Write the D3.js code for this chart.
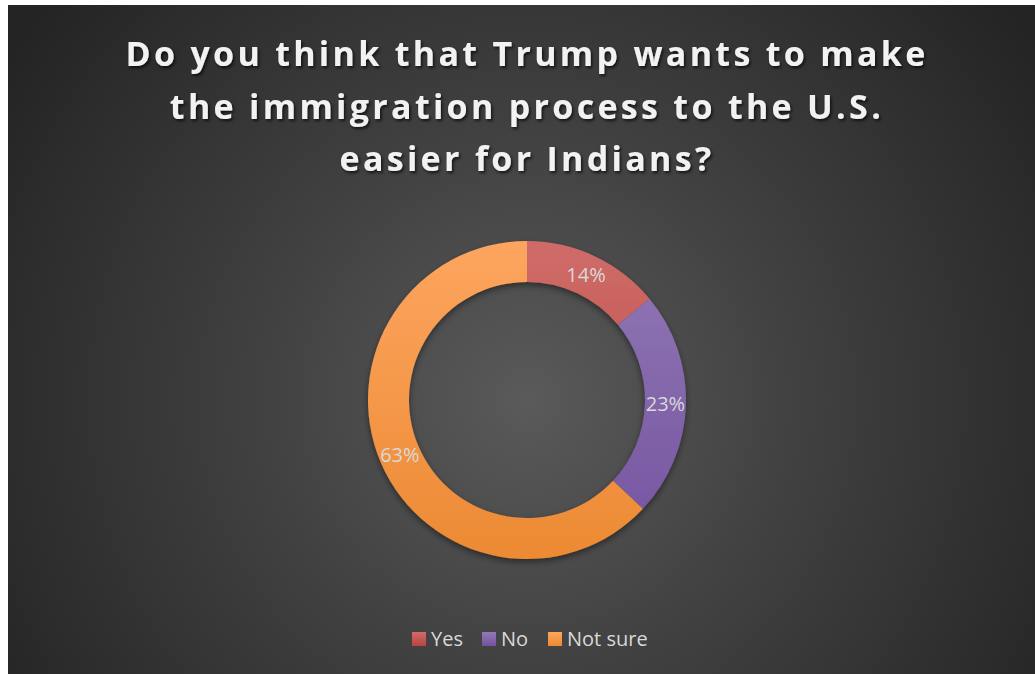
<!DOCTYPE html>
<html lang="en">
<head>
<meta charset="UTF-8">
<title>donut chart</title>
<script src="https://cdnjs.cloudflare.com/ajax/libs/d3/7.8.5/d3.min.js"></script>
<style>
  * { margin: 0; padding: 0; }
  body { background: #fff; width: 1035px; height: 674px; overflow: hidden; }
  svg { display: block; }
</style>
</head>
<body>
<div id="chart"></div>
<script>
// data
var categories = ["Yes", "No", "Not sure"];
var values = [14, 23, 63];
var titleLines = ["Do you think that Trump wants to make",
                  "the immigration process to the U.S.",
                  "easier for Indians?"];
var lightColors = ["#cf6c69", "#9179b5", "#fda55f"];
var darkColors = ["#b94340", "#7452a0", "#ec8a33"];

var W = 1035, H = 674;
var box = {x: 8, y: 5, w: 1027, h: 669};
var cx = 527, cy = 400, outerR = 159, innerR = 118;

var svg = d3.select("#chart").append("svg")
  .attr("width", W).attr("height", H);

var defs = svg.append("defs");
var bg = defs.append("radialGradient").attr("id", "bg")
  .attr("gradientUnits", "userSpaceOnUse")
  .attr("cx", cx).attr("cy", cy).attr("r", 620);
bg.append("stop").attr("offset", "0").attr("stop-color", "#5a5a5a");
bg.append("stop").attr("offset", "0.45").attr("stop-color", "#404040");
bg.append("stop").attr("offset", "1").attr("stop-color", "#242424");

// segment gradients, in the donut group's coordinates
lightColors.forEach(function(c, i) {
  var g = defs.append("linearGradient").attr("id", "seg" + i)
    .attr("gradientUnits", "userSpaceOnUse")
    .attr("x1", 0).attr("y1", -outerR).attr("x2", 0).attr("y2", outerR);
  g.append("stop").attr("offset", "0").attr("stop-color", lightColors[i]);
  g.append("stop").attr("offset", "1").attr("stop-color", darkColors[i]);

  var l = defs.append("linearGradient").attr("id", "leg" + i)
    .attr("x1", 0).attr("y1", 0).attr("x2", 0).attr("y2", 1);
  l.append("stop").attr("offset", "0").attr("stop-color", lightColors[i]);
  l.append("stop").attr("offset", "1").attr("stop-color", darkColors[i]);
});

var sh = defs.append("filter").attr("id", "shadow")
  .attr("x", "-20%").attr("y", "-20%").attr("width", "140%").attr("height", "140%");
sh.append("feDropShadow").attr("dx", 0).attr("dy", 3).attr("stdDeviation", 3)
  .attr("flood-color", "#000").attr("flood-opacity", 0.45);

var tsh = defs.append("filter").attr("id", "tshadow");
tsh.append("feDropShadow").attr("dx", 1.5).attr("dy", 2).attr("stdDeviation", 1.5)
  .attr("flood-color", "#000").attr("flood-opacity", 0.7);

svg.append("rect")
  .attr("x", box.x).attr("y", box.y).attr("width", box.w).attr("height", box.h)
  .attr("fill", "url(#bg)");

// title
svg.append("g").attr("filter", "url(#tshadow)")
  .selectAll("text").data(titleLines).enter().append("text")
  .attr("x", cx).attr("y", function(d, i) { return 66 + i * 52.5; })
  .attr("text-anchor", "middle")
  .style("font-family", "'Open Sans', sans-serif")
  .style("font-weight", "bold")
  .style("font-size", "34px")
  .style("letter-spacing", "3.3px")
  .attr("fill", "#f2f2f2")
  .text(function(d) { return d; });

// donut
var pie = d3.pie().sort(null).value(function(d) { return d; });
var arc = d3.arc().innerRadius(innerR).outerRadius(outerR);
var midR = (innerR + outerR) / 2;
var labelArc = d3.arc().innerRadius(midR).outerRadius(midR);
var arcs = pie(values);

var donut = svg.append("g").attr("transform", "translate(" + cx + "," + cy + ")");
donut.append("g").attr("filter", "url(#shadow)")
  .selectAll("path").data(arcs).enter().append("path")
  .attr("d", arc)
  .attr("fill", function(d, i) { return "url(#seg" + i + ")"; });

donut.selectAll("text.lbl").data(arcs).enter().append("text")
  .attr("class", "lbl")
  .attr("transform", function(d) { return "translate(" + labelArc.centroid(d) + ")"; })
  .attr("text-anchor", "middle")
  .attr("dy", "0.35em")
  .style("font-family", "'Open Sans', sans-serif")
  .style("font-size", "20px")
  .attr("fill", "#d9d9d9")
  .text(function(d) { return d.data + "%"; });

// legend
var legendX = [412, 482, 548];
var item = svg.append("g").selectAll("g").data(categories).enter().append("g")
  .attr("transform", function(d, i) { return "translate(" + legendX[i] + ",632)"; });
item.append("rect").attr("width", 14).attr("height", 14)
  .attr("fill", function(d, i) { return "url(#leg" + i + ")"; });
item.append("text").attr("x", 19).attr("y", 7).attr("dy", "0.36em")
  .style("font-family", "'Open Sans', sans-serif")
  .style("font-size", "20px")
  .attr("fill", "#d9d9d9")
  .text(function(d) { return d; });
</script>
</body>
</html>
